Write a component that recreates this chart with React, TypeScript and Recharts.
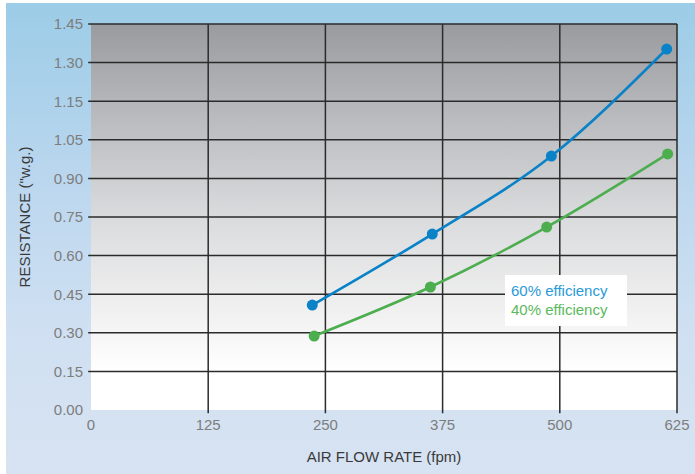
import {
  LineChart,
  Line,
  XAxis,
  YAxis,
  CartesianGrid,
  ReferenceLine,
} from "recharts";

// air flow rate (fpm) and resistance ("w.g.)
const flow60 = [236, 364, 491, 614];
const res60 = [0.394, 0.661, 0.954, 1.356];
const flow40 = [238, 362, 486, 615];
const res40 = [0.278, 0.462, 0.687, 0.962];

const seriesNames = ["60% efficiency", "40% efficiency"];

const xTicks = [0, 125, 250, 375, 500, 625];
// the printed labels are not quite even, the gridlines are
const yTicks = [0, 0.145, 0.29, 0.435, 0.58, 0.725, 0.87, 1.015, 1.16, 1.305, 1.45];
const yTickLabels = ["0.00", "0.15", "0.30", "0.45", "0.60", "0.75", "0.90", "1.05", "1.15", "1.30", "1.45"];

const BLUE = "#0a82c8";
const GREEN = "#4cae4f";
const FONT = '"Liberation Sans", Arial, sans-serif';
const TICK = { fill: "#7d7d7d", fontSize: 15, fontFamily: FONT };

const data60 = flow60.map((x, i) => ({ x, y: res60[i] }));
const data40 = flow40.map((x, i) => ({ x, y: res40[i] }));

const legendColors = ["#2a9ad8", "#5cb95c"];

export default function App() {
  return (
    <div style={{ position: "absolute", left: 0, top: 0, width: 695, height: 474, background: "#fff" }}>
      <div
        style={{
          position: "absolute",
          left: 6,
          top: 3,
          width: 689,
          height: 471,
          background: "linear-gradient(to bottom, #9ccce7 0%, #b9d6ee 35%, #d0e0f2 70%, #d7e3f2 100%)",
        }}
      />
      <div style={{ position: "absolute", left: 0, top: 0 }}>
        <LineChart width={695} height={474} margin={{ top: 24, right: 18, left: 0, bottom: 0 }}>
          <defs>
            <linearGradient id="plotBg" x1="0" y1="0" x2="0" y2="1">
              <stop offset="0%" stopColor="#9a9b9f" />
              <stop offset="25%" stopColor="#bbbcbf" />
              <stop offset="50%" stopColor="#dadbdd" />
              <stop offset="75%" stopColor="#f1f1f1" />
              <stop offset="90%" stopColor="#ffffff" />
              <stop offset="100%" stopColor="#ffffff" />
            </linearGradient>
          </defs>
          <CartesianGrid horizontal={false} vertical={false} fill="url(#plotBg)" />
          <XAxis
            type="number"
            dataKey="x"
            domain={[0, 625]}
            ticks={xTicks}
            height={64}
            axisLine={false}
            tickLine={false}
            tickSize={0}
            tickMargin={9}
            tick={TICK}
            label={{
              value: "AIR FLOW RATE (fpm)",
              position: "insideBottom",
              offset: 12,
              style: { fill: "#3a3a3a", fontSize: 15, fontFamily: FONT },
            }}
          />
          <YAxis
            type="number"
            domain={[0, 1.45]}
            ticks={yTicks}
            width={91}
            axisLine={false}
            tickLine={false}
            tickSize={0}
            tickMargin={8}
            tickFormatter={(v: number) => yTickLabels[yTicks.indexOf(v)] ?? ""}
            tick={TICK}
            label={{
              value: 'RESISTANCE ("w.g.)',
              angle: -90,
              position: "insideLeft",
              offset: 25,
              style: { fill: "#3a3a3a", fontSize: 15, fontFamily: FONT, textAnchor: "middle" },
            }}
          />
          {yTicks.slice(1).map((t) => (
            <ReferenceLine
              key={"h" + t}
              segment={[
                { x: -3, y: t },
                { x: 625, y: t },
              ]}
              ifOverflow="visible"
              stroke="#2b2b2b"
              strokeWidth={1.5}
            />
          ))}
          {xTicks.slice(1).map((t) => (
            <ReferenceLine
              key={"v" + t}
              segment={[
                { x: t, y: -0.012 },
                { x: t, y: 1.45 },
              ]}
              ifOverflow="visible"
              stroke="#2b2b2b"
              strokeWidth={1.5}
            />
          ))}
          <Line
            data={data60}
            dataKey="y"
            name={seriesNames[0]}
            type="monotone"
            stroke={BLUE}
            strokeWidth={2.6}
            dot={{ r: 5.5, fill: BLUE, stroke: "none" }}
            isAnimationActive={false}
          />
          <Line
            data={data40}
            dataKey="y"
            name={seriesNames[1]}
            type="monotone"
            stroke={GREEN}
            strokeWidth={2.6}
            dot={{ r: 5.5, fill: GREEN, stroke: "none" }}
            isAnimationActive={false}
          />
        </LineChart>
      </div>
      <div
        style={{
          position: "absolute",
          left: 505,
          top: 275,
          width: 122,
          height: 51,
          boxSizing: "border-box",
          padding: "6px 0 0 6px",
          background: "#fff",
          fontFamily: FONT,
          fontSize: 15,
          lineHeight: "19px",
        }}
      >
        {seriesNames.map((n, i) => (
          <div key={n} style={{ color: legendColors[i] }}>
            {n}
          </div>
        ))}
      </div>
    </div>
  );
}
